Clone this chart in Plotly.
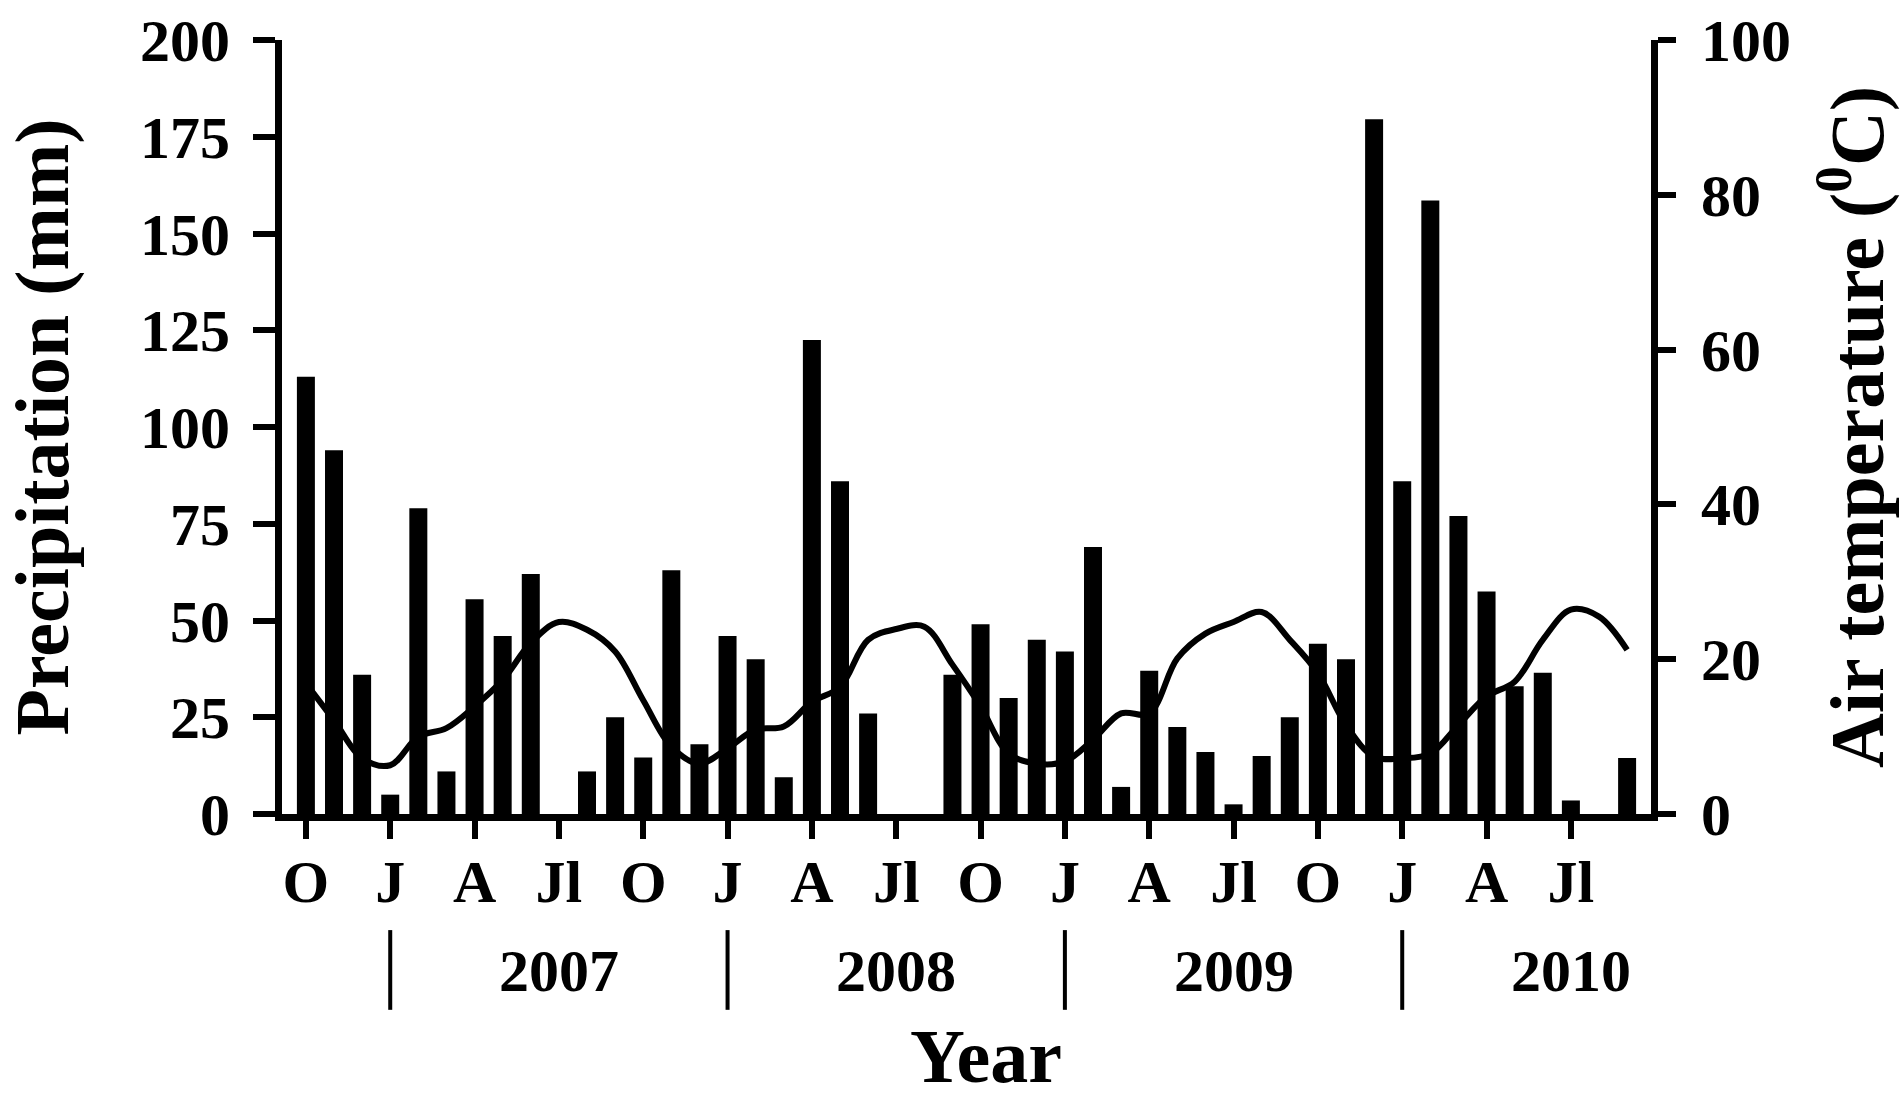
import plotly.graph_objects as go

# ---- data ----
months = [f"{y}-{m:02d}" for y, m in
          [(2006, m) for m in (10, 11, 12)] +
          [(2007, m) for m in range(1, 13)] +
          [(2008, m) for m in range(1, 13)] +
          [(2009, m) for m in range(1, 13)] +
          [(2010, m) for m in range(1, 10)]]

precipitation = [113, 94, 36, 5, 79, 11, 55.5, 46, 62, 0, 11, 25,
                 14.6, 63, 18, 46, 40, 9.5, 122.5, 86, 26, 0, 0, 36,
                 49, 30, 45, 42, 69, 7, 37, 22.5, 16, 2.5, 15, 25,
                 44, 40, 179.5, 86, 158.5, 77, 57.5, 33, 36.5, 3.5, 0, 14.5]

air_temperature = [16.9, 12.1, 7.2, 6.3, 10.0, 11.1, 13.9, 17.3, 22.1, 24.8, 23.8, 21.0,
                   14.7, 8.7, 6.5, 8.5, 10.9, 11.3, 14.5, 16.4, 22.5, 23.9, 24.2, 19.3,
                   13.9, 7.8, 6.5, 6.8, 9.6, 13.0, 13.0, 20.1, 23.3, 24.8, 26.1, 22.5,
                   18.2, 11.5, 7.4, 7.2, 7.8, 11.5, 15.2, 17.1, 22.5, 26.4, 25.5, 21.2]

tick_months = months[::3]
tick_labels = ["O", "J", "A", "Jl", "O", "J", "A", "Jl",
               "O", "J", "A", "Jl", "O", "J", "A", "Jl"]
years = ["2007", "2008", "2009", "2010"]

FONT = "Liberation Serif"
TICK_SIZE = 60
TITLE_SIZE = 76

def tfont(size):
    return dict(family=FONT, size=size, color="black", weight="bold")

fig = go.Figure()
fig.add_trace(go.Bar(x=months, y=precipitation, marker=dict(color="black", line=dict(width=0)),
                     name="Precipitation", yaxis="y"))
fig.add_trace(go.Scatter(x=months, y=air_temperature, mode="lines",
                         line=dict(color="black", width=6, shape="spline", smoothing=1),
                         name="Air temperature", yaxis="y2"))

axis_common = dict(showline=True, linecolor="black", linewidth=7, ticks="outside",
                   tickcolor="black", tickwidth=6, showgrid=False, zeroline=False,
                   automargin=False, tickfont=tfont(TICK_SIZE))

fig.update_layout(
    template="none",
    width=1904, height=1095, autosize=False,
    margin=dict(l=282, r=253, t=40, b=281),
    paper_bgcolor="white", plot_bgcolor="white",
    showlegend=False, bargap=0.36,
    xaxis=dict(type="category", range=[-0.85, 47.85], tickmode="array",
               tickvals=tick_months, ticktext=tick_labels, ticklen=18,
               ticklabelstandoff=-9,
               **axis_common),
    yaxis=dict(range=[0, 200], dtick=25, tick0=0, ticklen=22, ticklabelstandoff=11,
               title=dict(text="Precipitation (mm)", font=tfont(TITLE_SIZE), standoff=57),
               **axis_common),
    yaxis2=dict(range=[0, 100], dtick=20, tick0=0, ticklen=18, overlaying="y", side="right",
                ticklabelstandoff=13,
                title=dict(text="Air temperature (<sup>0</sup>C)", font=tfont(TITLE_SIZE),
                           standoff=42),
                **axis_common),
)

# year separators at each January and year labels at each July
for m in months:
    if m.endswith("-01"):
        fig.add_shape(type="line", xref="x", yref="paper", x0=m, x1=m, y0=-0.150, y1=-0.253,
                      line=dict(color="black", width=4))
for yr in years:
    fig.add_annotation(x=f"{yr}-07", xref="x", y=-0.203, yref="paper", text=yr, showarrow=False,
                       xanchor="center", yanchor="middle", font=tfont(TICK_SIZE))

# x-axis title
fig.add_annotation(x=0.514, xref="paper", y=-0.3127, yref="paper", text="Year", showarrow=False,
                   xanchor="center", yanchor="middle", font=tfont(TITLE_SIZE))

fig.write_html("out.html", config={"displayModeBar": False},
               post_script="document.body.style.margin='0px';")
